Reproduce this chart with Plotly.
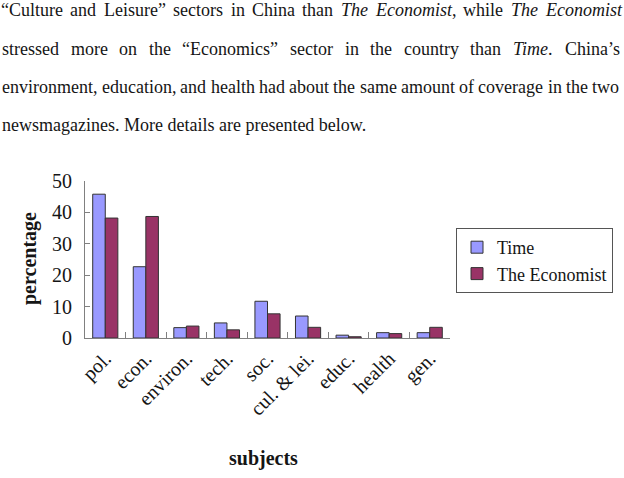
import plotly.graph_objects as go

# ---- data ----
subjects = ["pol.", "econ.", "environ.", "tech.", "soc.", "cul. & lei.", "educ.", "health", "gen."]
time_pct = [45.8, 22.7, 3.3, 4.8, 11.7, 7.0, 0.9, 1.7, 1.7]
economist_pct = [38.2, 38.7, 3.8, 2.6, 7.7, 3.4, 0.4, 1.4, 3.4]
series_names = ["Time", "The Economist"]
y_ticks = [0, 10, 20, 30, 40, 50]

# ---- paragraph text (lines of the scanned page above the chart) ----
line1 = [("“Culture", False), ("and", False), ("Leisure”", False), ("sectors", False), ("in", False),
         ("China", False), ("than", False), ("The", True), ("Economist|,", True), ("while", False),
         ("The", True), ("Economist", True)]
line2 = [("stressed", False), ("more", False), ("on", False), ("the", False), ("“Economics”", False),
         ("sector", False), ("in", False), ("the", False), ("country", False), ("than", False),
         ("Time|.", True), ("China’s", False)]
line3 = [(w, False) for w in "environment, education, and health had about the same amount of coverage in the two".split()]
line4 = "newsmagazines. More details are presented below."

REG = {' ': 250, ',': 250, '.': 250, '’': 333, '“': 444, '”': 444, '&': 778,
       'C': 667, 'E': 611, 'L': 611, 'M': 889, 'T': 611,
       'a': 444, 'b': 500, 'c': 444, 'd': 500, 'e': 444, 'f': 333, 'g': 500, 'h': 500, 'i': 278,
       'j': 278, 'k': 500, 'l': 278, 'm': 778, 'n': 500, 'o': 500, 'p': 500, 'q': 500, 'r': 333,
       's': 389, 't': 278, 'u': 500, 'v': 500, 'w': 722, 'x': 500, 'y': 500, 'z': 444}
ITA = dict(REG)
ITA.update({'T': 556, 'm': 722})

FS = 18
TXT = "#151515"


def word_width(word, italic):
    main, _, tail = word.partition('|')
    tbl = ITA if italic else REG
    w = sum(tbl.get(c, 500) for c in main) + sum(REG.get(c, 500) for c in tail)
    return w * FS / 1000.0


def word_html(word, italic):
    main, _, tail = word.partition('|')
    return (f"<i>{main}</i>" if italic else main) + tail


W, H = 624, 478
annotations = []


def add_justified(words, x0, x1, yc):
    widths = [word_width(w, it) for w, it in words]
    gap = (x1 - x0 - sum(widths)) / (len(words) - 1)
    x = x0
    for (w, it), ww in zip(words, widths):
        annotations.append(dict(text=word_html(w, it), x=x / W, y=1 - yc / H, xref="paper", yref="paper",
                                xanchor="left", yanchor="middle", showarrow=False,
                                font=dict(family="Liberation Serif", size=FS, color=TXT)))
        x += ww + gap


add_justified(line1, -1, 619, 10)
add_justified(line2, 0, 619, 49)
add_justified(line3, 0, 617, 87)
annotations.append(dict(text=line4, x=0, y=1 - 125 / H, xref="paper", yref="paper",
                        xanchor="left", yanchor="middle", showarrow=False,
                        font=dict(family="Liberation Serif", size=FS, color=TXT)))

# axis titles
annotations.append(dict(text="<b>percentage</b>", x=29 / W, y=1 - 259 / H, xref="paper", yref="paper",
                        xanchor="center", yanchor="middle", showarrow=False, textangle=-90,
                        font=dict(family="Liberation Serif", size=20, color=TXT)))
annotations.append(dict(text="<b>subjects</b>", x=263 / W, y=1 - 458 / H, xref="paper", yref="paper",
                        xanchor="center", yanchor="middle", showarrow=False,
                        font=dict(family="Liberation Serif", size=20, color=TXT)))

fig = go.Figure()
fig.add_trace(go.Bar(x=subjects, y=time_pct, name=series_names[0], legendgroup="a",
                     marker=dict(color="#9999FF", line=dict(color="#333333", width=1))))
fig.add_trace(go.Bar(x=subjects, y=economist_pct, name=series_names[1], legendgroup="b",
                     marker=dict(color="#993366", line=dict(color="#333333", width=1))))

fig.update_layout(
    width=W, height=H,
    margin=dict(l=0, r=0, t=0, b=0, autoexpand=False),
    paper_bgcolor="white", plot_bgcolor="white",
    barmode="group", bargap=0.38, bargroupgap=0,
    font=dict(family="Liberation Serif", size=20, color=TXT),
    xaxis=dict(domain=[85 / W, 450 / W], showline=True, linecolor="#808080", linewidth=1,
               ticks="inside", ticklen=6, tickcolor="#808080", tickson="boundaries",
               tickangle=-45, tickfont=dict(size=20), showgrid=False, zeroline=False,
               automargin=False),
    yaxis=dict(domain=[(H - 338) / H, (H - 181) / H], range=[0, 50], tickvals=y_ticks,
               showline=True, linecolor="#808080", linewidth=1, ticks="inside", ticklen=5,
               tickcolor="#808080", ticklabelstandoff=8, tickfont=dict(size=20),
               showgrid=False, zeroline=False, automargin=False),
    legend=dict(x=456 / W, y=(H - 228) / H, xanchor="left", yanchor="top",
                bordercolor="#555555", borderwidth=1, bgcolor="white",
                font=dict(family="Liberation Serif", size=18, color=TXT),
                tracegroupgap=3, traceorder="normal"),
    annotations=annotations,
)

fig.write_html("out.html")
